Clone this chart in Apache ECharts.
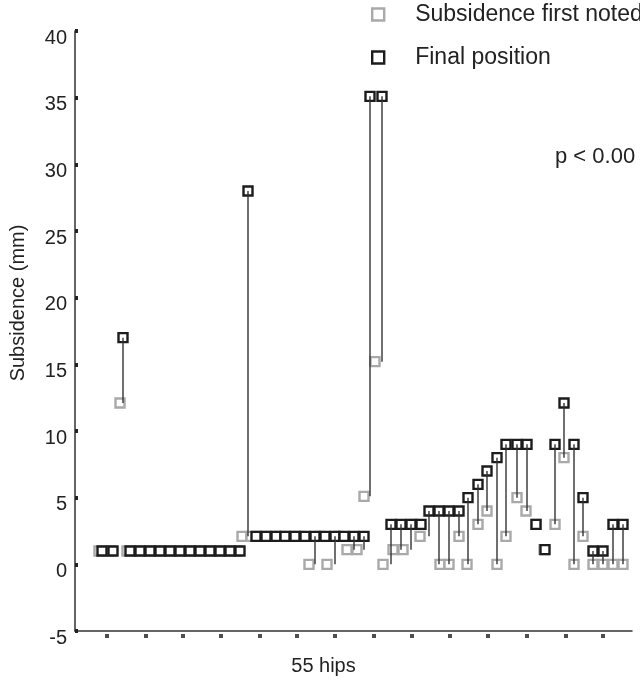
<!DOCTYPE html>
<html>
<head>
<meta charset="utf-8">
<script src="https://cdn.jsdelivr.net/npm/echarts@6/dist/echarts.min.js"></script>
<style>
  html, body { margin: 0; padding: 0; background: #fff; }
  #chart { width: 640px; height: 681px; }
</style>
</head>
<body>
<div id="chart"></div>
<script>
// hip positions along the x axis (arbitrary hip units)
var finalX = [2.7, 3.8, 4.8, 5.5, 6.5, 7.5, 8.5, 9.5, 10.5, 11.5, 12.5, 13.5, 14.5, 15.5, 16.5,
    17.3, 18.1, 19.1, 20.1, 21.0, 22.0, 23.0, 24.0, 25.0, 26.0, 26.9, 27.9, 28.9, 29.5, 30.7,
    31.6, 32.6, 33.6, 34.6, 35.4, 36.4, 37.4, 38.4, 39.3, 40.3, 41.2, 42.2, 43.1, 44.2, 45.2,
    46.1, 47.0, 48.0, 48.9, 49.9, 50.8, 51.8, 52.8, 53.8, 54.8];
var firstX = [2.4, 3.5, 4.5, 5.2, 6.2, 7.2, 8.2, 9.2, 10.2, 11.2, 12.2, 13.2, 14.2, 15.2, 16.2,
    16.7, 17.6, 18.6, 19.6, 20.5, 21.5, 22.5, 23.4, 24.5, 25.2, 26.4, 27.2, 28.2, 28.9, 30.0,
    30.8, 31.8, 32.8, 33.9, 34.5, 36.5, 37.4, 38.4, 39.2, 40.3, 41.2, 42.2, 43.1, 44.2, 45.1,
    46.1, 46.9, 48.0, 48.9, 49.9, 50.8, 51.8, 52.8, 53.8, 54.8];
// subsidence (mm)
var firstNoted = [1, 1, 12.1, 1, 1, 1, 1, 1, 1, 1, 1, 1, 1, 1, 1,
    2.1, 2.1, 2.1, 2.1, 2.1, 2.1, 2.1, 0, 2.1, 0, 2.1, 1.1, 1.1, 5.1, 15.2,
    0, 1.1, 1.1, 3, 2.1, 0, 0, 2.1, 0, 3, 4, 0, 2.1, 5, 4,
    3, 1.1, 3, 8, 0, 2.1, 0, 0, 0, 0];
var finalPosition = [1, 1, 17, 1, 1, 1, 1, 1, 1, 1, 1, 1, 1, 1, 1,
    28, 2.1, 2.1, 2.1, 2.1, 2.1, 2.1, 2.1, 2.1, 2.1, 2.1, 2.1, 2.1, 35.1, 35.1,
    3, 3, 3, 3, 4, 4, 4, 4, 5, 6, 7, 8, 9, 9, 9,
    3, 1.1, 9, 12.1, 9, 5, 1, 1, 3, 3];
var xTicks = [3.2, 7.1, 10.8, 14.6, 18.5, 22.2, 26.0, 29.9, 33.7, 37.5, 41.3, 45.2, 49.1, 52.8];

var gray = '#a9a9a9';
var black = '#1c1c1c';
var font = 'Liberation Sans';

var chart = echarts.init(document.getElementById('chart'), null, { renderer: 'canvas' });

var option = {
    animation: false,
    textStyle: { fontFamily: font },
    grid: { left: 75, right: 8, top: 31, bottom: 49 },
    legend: {
        orient: 'vertical',
        left: 371,
        top: 3,
        padding: 0,
        itemWidth: 12,
        itemHeight: 12,
        itemGap: 20,
        textStyle: { fontSize: 23, color: '#222', fontFamily: font, padding: [0, 0, 0, 26] },
        data: [
            { name: 'Subsidence first noted', icon: 'rect', itemStyle: { color: '#fff', borderColor: gray, borderWidth: 2.4 } },
            { name: 'Final position', icon: 'rect', itemStyle: { color: '#fff', borderColor: black, borderWidth: 2.4 } }
        ]
    },
    graphic: [{
        type: 'text',
        left: 555,
        top: 146,
        style: { text: 'p < 0.00', fill: '#222', font: '22px "Liberation Sans"' }
    }],
    xAxis: {
        type: 'value',
        min: 0,
        max: 55.7,
        name: '55 hips',
        nameLocation: 'middle',
        nameGap: 25,
        nameTextStyle: { fontSize: 20, color: '#222', padding: [0, 60, 0, 0] },
        axisLine: { onZero: false, lineStyle: { color: '#333', width: 1.5 } },
        axisTick: { show: false },
        axisLabel: { show: false },
        splitLine: { show: false }
    },
    yAxis: {
        type: 'value',
        min: -5,
        max: 40,
        interval: 5,
        name: 'Subsidence (mm)',
        nameLocation: 'middle',
        nameGap: 47,
        nameTextStyle: { fontSize: 20, color: '#222', padding: [0, 0, 0, 56] },
        axisLine: { show: true, onZero: false, lineStyle: { color: '#333', width: 1.5 } },
        axisTick: { show: true, inside: true, length: 3, lineStyle: { color: '#222', width: 4 } },
        axisLabel: { fontSize: 20, color: '#222', margin: 8, verticalAlign: 'top', lineHeight: 14 },
        splitLine: { show: false }
    },
    series: [
        {
            name: 'links',
            type: 'custom',
            z: 4,
            renderItem: function (params, api) {
                var top = api.coord([api.value(0), api.value(2)]);
                var bot = api.coord([api.value(0), api.value(1)]);
                return {
                    type: 'line',
                    shape: { x1: top[0], y1: top[1], x2: bot[0], y2: bot[1] },
                    style: { stroke: '#333', lineWidth: 1.4 }
                };
            },
            data: finalX.map(function (x, i) { return [x, firstNoted[i], finalPosition[i]]; })
        },
        {
            name: 'Subsidence first noted',
            type: 'scatter',
            symbol: 'rect',
            symbolSize: 9,
            z: 2,
            itemStyle: { color: '#fff', borderColor: gray, borderWidth: 2.4, opacity: 1 },
            emphasis: { disabled: true },
            data: firstX.map(function (x, i) { return [x, firstNoted[i]]; })
        },
        {
            name: 'Final position',
            type: 'scatter',
            symbol: 'rect',
            symbolSize: 9,
            z: 3,
            itemStyle: { color: '#fff', borderColor: black, borderWidth: 2.4, opacity: 1 },
            emphasis: { disabled: true },
            data: finalX.map(function (x, i) { return [x, finalPosition[i]]; })
        },
        {
            name: 'xticks',
            type: 'scatter',
            symbol: 'rect',
            symbolSize: 4,
            symbolOffset: [0, 5],
            clip: false,
            silent: true,
            itemStyle: { color: '#222' },
            data: xTicks.map(function (x) { return [x, -5]; })
        }
    ]
};

chart.setOption(option);

window.addEventListener('resize', function () {
    chart.resize();
});
</script>
</body>
</html>
